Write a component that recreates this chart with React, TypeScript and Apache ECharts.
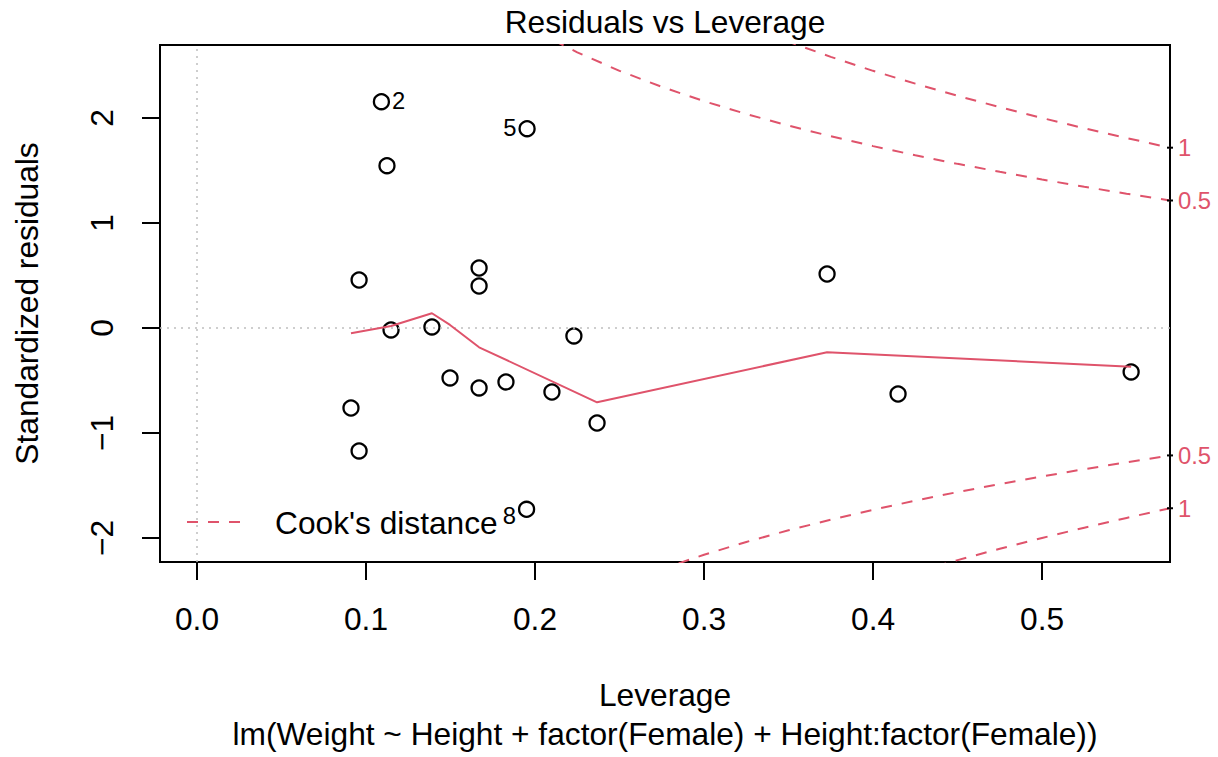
import React, { useEffect, useRef } from "react";
import * as echarts from "echarts";

// ---- data ----
const leverage = [
  0.1091, 0.1124, 0.1953, 0.0959, 0.1669, 0.1669, 0.1148, 0.139, 0.223, 0.1497,
  0.1669, 0.1828, 0.210, 0.2367, 0.0911, 0.0959, 0.195, 0.3728, 0.4148, 0.5527,
];
const stdResiduals = [
  2.155, 1.546, 1.898, 0.457, 0.571, 0.4, -0.019, 0.01, -0.076, -0.476,
  -0.571, -0.514, -0.61, -0.905, -0.762, -1.171, -1.727, 0.514, -0.629, -0.419,
];
const pointIds = ["2", "", "5", "", "", "", "", "", "", "", "", "", "", "", "", "", "8", "", "", ""];
const pointIdSide = ["right", "", "left", "", "", "", "", "", "", "", "", "", "", "", "", "", "left", "", "", ""];

const smoothLeverage = [0.0911, 0.1148, 0.139, 0.1497, 0.1669, 0.2367, 0.3728, 0.5527];
const smoothResiduals = [-0.051, 0.019, 0.14, 0.029, -0.184, -0.708, -0.231, -0.369];

// Cook's distance contours (upper / lower, levels 0.5 and 1)
const cook05UpperLev = [0.2, 0.225, 0.25, 0.275, 0.3, 0.325, 0.35, 0.375, 0.4, 0.425, 0.45, 0.475, 0.5, 0.525, 0.55, 0.5757];
const cook05UpperRes = [2.828, 2.625, 2.449, 2.296, 2.16, 2.038, 1.927, 1.826, 1.732, 1.645, 1.563, 1.487, 1.414, 1.345, 1.279, 1.214];
const cook1UpperLev = [0.325, 0.35, 0.375, 0.4, 0.425, 0.45, 0.475, 0.5, 0.525, 0.55, 0.5757];
const cook1UpperRes = [2.882, 2.726, 2.582, 2.449, 2.327, 2.211, 2.103, 2.0, 1.902, 1.809, 1.717];
const cook05LowerLev = [0.25, 0.275, 0.3, 0.325, 0.35, 0.375, 0.4, 0.425, 0.45, 0.475, 0.5, 0.525, 0.55, 0.5757];
const cook05LowerRes = [-2.449, -2.296, -2.16, -2.038, -1.927, -1.826, -1.732, -1.645, -1.563, -1.487, -1.414, -1.345, -1.279, -1.214];
const cook1LowerLev = [0.425, 0.45, 0.475, 0.5, 0.525, 0.55, 0.5757];
const cook1LowerRes = [-2.327, -2.211, -2.103, -2.0, -1.902, -1.809, -1.717];

const cookLabelText = ["1", "0.5", "0.5", "1"];
const cookLabelRes = [1.717, 1.214, -1.214, -1.717];

const xTicks = [0, 0.1, 0.2, 0.3, 0.4, 0.5];
const yTicks = [-2, -1, 0, 1, 2];
const xMin = -0.0219;
const xMax = 0.5757;
const yMin = -2.229;
const yMax = 2.695;

const titleText = "Residuals vs Leverage";
const xTitle = "Leverage";
const yTitle = "Standardized residuals";
const captionText = "lm(Weight ~ Height + factor(Female) + Height:factor(Female))";
const legendName = "Cook's distance";

// ---- styles ----
const FONT = '"Liberation Sans", Arial, Helvetica, sans-serif';
const FS = 31.7;
const FS_SMALL = 23.8;
const RED = "#DF536B";

const zip = (a: number[], b: number[]) => a.map((v, i) => [v, b[i]]);

export default function App() {
  const ref = useRef<HTMLDivElement>(null);
  useEffect(() => {
    if (!ref.current) return;
    const chart = echarts.init(ref.current, undefined, { renderer: "svg" });

    const cookSeries = (lev: number[], res: number[]) => ({
      name: legendName,
      type: "line",
      data: zip(lev, res),
      showSymbol: false,
      symbol: "none",
      clip: true,
      lineStyle: { color: RED, width: 2, type: [11, 10] },
      itemStyle: { color: RED },
      z: 3,
    });

    const txt = (text: string, x: number, y: number, extra: any = {}) => ({
      type: "text",
      x,
      y,
      ...extra,
      style: { text, fontSize: FS, fontFamily: FONT, fill: "#000", align: "center", verticalAlign: "middle", ...(extra.style || {}) },
    });

    const option: any = {
      animation: false,
      backgroundColor: "#fff",
      textStyle: { fontFamily: FONT },
      grid: {
        left: 160,
        top: 45,
        width: 1010,
        height: 517,
        show: true,
        borderColor: "#000",
        borderWidth: 2,
        backgroundColor: "transparent",
      },
      xAxis: {
        type: "value",
        min: xMin,
        max: xMax,
        axisLine: { show: false, onZero: false },
        splitLine: { show: false },
        axisTick: { show: true, customValues: xTicks, length: 18, lineStyle: { color: "#000", width: 2 } },
        axisLabel: {
          customValues: xTicks,
          formatter: (v: number) => v.toFixed(1),
          margin: 41,
          fontSize: FS,
          fontFamily: FONT,
          color: "#000",
        },
      },
      yAxis: {
        type: "value",
        min: yMin,
        max: yMax,
        axisLine: { show: false, onZero: false },
        splitLine: { show: false },
        axisTick: { show: true, customValues: yTicks, length: 18, lineStyle: { color: "#000", width: 2 } },
        axisLabel: {
          customValues: yTicks,
          rotate: 90,
          formatter: (v: number) => (v < 0 ? "\u2212" + Math.abs(v) : String(v)),
          margin: 42,
          fontSize: FS,
          fontFamily: FONT,
          color: "#000",
        },
      },
      graphic: [
        txt(titleText, 665, 22),
        txt(xTitle, 665, 695),
        txt(captionText, 665, 734),
        txt(yTitle, 27, 303.5, { rotation: Math.PI / 2 }),
        // legend
        {
          type: "line",
          shape: { x1: 187, y1: 522, x2: 243, y2: 522 },
          style: { stroke: RED, lineWidth: 2, lineDash: [11, 10] },
        },
        txt(legendName, 275, 523, { style: { align: "left" } }),
      ],
      series: [
        {
          name: "points",
          type: "scatter",
          symbol: "circle",
          symbolSize: 15,
          itemStyle: { color: "rgba(255,255,255,0)", borderColor: "#000", borderWidth: 2.3, opacity: 1 },
          z: 4,
          data: leverage.map((x, i) => {
            const id = pointIds[i];
            if (!id) return { value: [x, stdResiduals[i]] };
            return {
              value: [x, stdResiduals[i]],
              label: {
                show: true,
                formatter: id,
                position: pointIdSide[i],
                distance: 2,
                offset: id === "8" ? [0, 6] : [0, -1],
                fontSize: FS_SMALL,
                fontFamily: FONT,
                color: "#000",
              },
            };
          }),
          markLine: {
            silent: true,
            symbol: ["none", "none"],
            label: { show: false },
            lineStyle: { color: "#bebebe", type: [2, 5], width: 1.5, opacity: 1 },
            data: [{ xAxis: 0 }, { yAxis: 0 }],
          },
        },
        {
          name: "smooth",
          type: "line",
          data: zip(smoothLeverage, smoothResiduals),
          showSymbol: false,
          symbol: "none",
          lineStyle: { color: RED, width: 2 },
          z: 5,
        },
        cookSeries(cook05UpperLev, cook05UpperRes),
        cookSeries(cook1UpperLev, cook1UpperRes),
        cookSeries(cook05LowerLev, cook05LowerRes),
        cookSeries(cook1LowerLev, cook1LowerRes),
        {
          name: "cookLevels",
          type: "scatter",
          symbol: "rect",
          symbolSize: [6, 2],
          itemStyle: { color: "#000", opacity: 1 },
          clip: false,
          z: 6,
          data: cookLabelRes.map((r, i) => ({
            value: [xMax, r],
            label: {
              show: true,
              formatter: cookLabelText[i],
              position: "right",
              distance: 5,
              fontSize: FS_SMALL,
              fontFamily: FONT,
              color: RED,
            },
          })),
        },
      ],
    };
    chart.setOption(option);
    return () => chart.dispose();
  }, []);

  return (
    <div
      ref={ref}
      style={{ position: "absolute", left: 0, top: 0, width: 1218, height: 757, background: "#fff" }}
    />
  );
}
